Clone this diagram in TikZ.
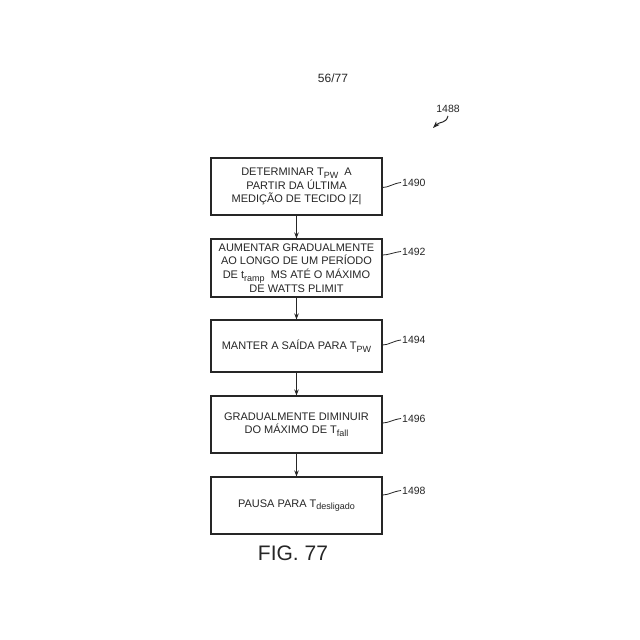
\documentclass[tikz,border=0pt]{standalone}
\usepackage{fontspec}
\setmainfont{Liberation Sans}
\usetikzlibrary{arrows.meta}
\newcommand\sbx[1]{\raisebox{-0.45ex}{\fontsize{9}{10}\selectfont #1}}
\begin{document}
\begin{tikzpicture}[x=1pt,y=-1pt,
  stepbox/.style={draw=black!85, line width=1.1pt, fill=white, minimum width=171pt,
    inner sep=0pt, align=center, font=\fontsize{11}{13.6}\selectfont, text=black!85},
  flow/.style={line width=1pt, draw=black!85, -{Stealth[length=6pt,width=4.5pt]}},
  refnum/.style={font=\fontsize{10.5}{12}\selectfont, text=black!85, anchor=west, inner sep=1pt},
  leader/.style={line width=0.8pt, draw=black!85}]
\useasboundingbox (0,0) rectangle (640,640);
\fill[white] (0,0) rectangle (640,640);

\node[font=\fontsize{12}{14}\selectfont, text=black!85] (page) at (333,78) {56/77};
\node[refnum, anchor=center] (r1488) at (448,109) {1488};
\coordinate (a1488) at (433,128);
\draw[line width=1pt, draw=black!85, -{Stealth[length=7pt,width=5pt]}] (r1488.south) ++(0,2) .. controls (446,124) and (440,121) .. (a1488);

\node[stepbox, minimum height=57pt] (b1) at (296.5,186.5) {DETERMINAR T\sbx{PW}\ \ A\\PARTIR DA ÚLTIMA\\MEDIÇÃO DE TECIDO |Z|};
\node[stepbox, minimum height=58pt] (b2) at (296.5,268) {AUMENTAR GRADUALMENTE\\AO LONGO DE UM PERÍODO\\DE t\sbx{ramp}\ \ MS ATÉ O MÁXIMO\\DE WATTS PLIMIT};
\node[stepbox, minimum height=52pt] (b3) at (296.5,346) {MANTER A SAÍDA PARA T\sbx{PW}};
\node[stepbox, minimum height=57pt] (b4) at (296.5,424.5) {GRADUALMENTE DIMINUIR\\DO MÁXIMO DE T\sbx{fall}};
\node[stepbox, minimum height=57pt] (b5) at (296.5,505.5) {PAUSA PARA T\sbx{desligado}};

\node[font=\fontsize{21}{24}\selectfont, text=black!85] (fig) at (293,553) {FIG. 77};

\draw[flow] (b1) -- (b2);
\draw[flow] (b2) -- (b3);
\draw[flow] (b3) -- (b4);
\draw[flow] (b4) -- (b5);

\node[refnum] (r1490) at (401,182.5) {1490};
\node[refnum] (r1492) at (401,251.5) {1492};
\node[refnum] (r1494) at (401,340) {1494};
\node[refnum] (r1496) at (401,418.5) {1496};
\node[refnum] (r1498) at (401,490.5) {1498};

\draw[leader] ([yshift=-1pt]b1.east) .. controls +(6,0) and +(-8,1) .. (r1490.west);
\draw[leader] ([yshift=13pt]b2.east) .. controls +(6,0) and +(-8,1) .. (r1492.west);
\draw[leader] ([yshift=1pt]b3.east) .. controls +(6,0) and +(-8,1) .. (r1494.west);
\draw[leader] ([yshift=1.5pt]b4.east) .. controls +(6,0) and +(-8,1) .. (r1496.west);
\draw[leader] ([yshift=10.5pt]b5.east) .. controls +(6,0) and +(-8,1) .. (r1498.west);
\end{tikzpicture}
\end{document}
